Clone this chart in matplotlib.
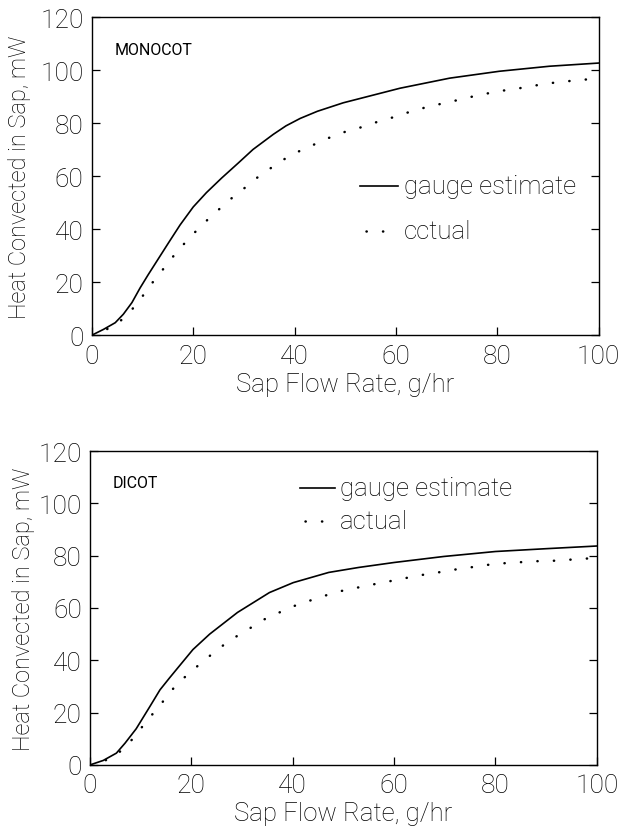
import matplotlib
matplotlib.use("Agg")
import matplotlib.pyplot as plt

# monocot panel
mono_gauge_x = [0, 2.3, 4.6, 6.2, 7.9, 9.5, 11.1, 13.1, 15.1, 17.4, 20, 22.6, 25.6, 28.9, 31.8, 35.8,
                38.3, 41.1, 44.5, 49.6, 60.8, 70.6, 80.4, 90.3, 100]
mono_gauge_y = [0, 2.2, 4.7, 7.9, 12.3, 17.8, 22.8, 28.8, 34.8, 41.6, 48.4, 53.8, 59.3, 65, 70.1, 75.8,
                79.0, 81.8, 84.5, 87.7, 93.2, 97.0, 99.6, 101.5, 102.7]
mono_actual_x = [0, 2.6, 5, 6.9, 8.7, 10.3, 11.9, 13.4, 15.1, 16.7, 18.4, 20.2, 22, 23.9, 25.9, 27.7,
                 29.8, 31.8, 33.8, 36.1, 38.2, 40.5, 42.9, 45.2, 47.5, 49.9, 52.4, 54.9, 57.3, 59.8,
                 62.1, 64.4, 66.9, 69.4, 71.9, 74.5, 77.0, 79.7, 82.2, 84.7, 87.1, 89.6, 92.1,
                 94.7, 97.2, 100]
mono_actual_y = [0, 1.9, 4.3, 7.6, 11.4, 15.5, 19.7, 23.4, 27.3, 31.4, 34.9, 38.6, 42, 45.6, 48.8, 51.9,
                 55, 58.3, 61.1, 64.1, 66.7, 69.1, 71.0, 73.3, 75.0, 76.7, 78.0, 79.6, 81.1, 82.4,
                 83.9, 85.2, 86.5, 87.5, 88.6, 89.8, 90.8, 91.9, 92.6, 93.3, 94.1, 94.9, 95.5,
                 96.0, 96.4, 97.3]

# dicot panel
dicot_gauge_x = [0, 2.6, 5.2, 6.9, 9.1, 11.8, 13.8, 15.7, 17.4, 20.3, 23.6, 29.1, 35.4, 40.1,
                 47.1, 53, 60, 69.8, 80, 90.2, 100]
dicot_gauge_y = [0, 1.7, 4.5, 8.3, 13.8, 22.3, 28.7, 33.3, 37.3, 44.1, 50.0, 58.3, 65.9, 69.7,
                 73.6, 75.5, 77.4, 79.7, 81.6, 82.7, 83.7]
dicot_actual_x = [0, 2.6, 5.1, 7.1, 8.9, 10.5, 12.1, 13.8, 15.4, 17.1, 19, 20.9, 22.9, 24.8, 26.9,
                  29.1, 31.3, 33.4, 35.8, 38.1, 40.7, 43.2, 45.7, 48.3, 51.1, 53.6, 56.1, 58.5,
                  61.2, 63.7, 66.3, 68.7, 71, 73.4, 76.1, 78.5, 81, 83.6, 85.9, 88.3, 91, 93.3,
                  95.7, 98, 100]
dicot_actual_y = [0, 1.3, 3.8, 7.0, 11.1, 15.1, 18.9, 22.7, 26.9, 30.7, 34.1, 37.3, 40.5, 43.6, 46.6,
                  49.4, 51.9, 54.7, 57, 58.9, 61.1, 62.7, 64.3, 65.9, 67.2, 68.1, 69.1, 70,
                  71, 72, 72.9, 73.6, 74.4, 75.1, 75.8, 76.5, 77, 77.4, 77.6, 77.9, 78, 78.3,
                  78.6, 78.9, 79.3]

xticks = [0, 20, 40, 60, 80, 100]
yticks = [0, 20, 40, 60, 80, 100, 120]

plt.rcParams['font.family'] = ['Roboto', 'DejaVu Sans']
plt.rcParams['font.weight'] = 'light'
plt.rcParams['axes.labelweight'] = 'light'
dots = (0, (0.1, 6.5))

fig = plt.figure(figsize=(6.21, 8.28), dpi=100)
ax1 = fig.add_axes([0.148, 0.594, 0.816, 0.384])
ax2 = fig.add_axes([0.145, 0.075, 0.816, 0.379])

panels = [
    (ax1, mono_gauge_x, mono_gauge_y, mono_actual_x, mono_actual_y, "MONOCOT",
     (53, 60.5, 56.2), 39.2, "cctual", -0.12),
    (ax2, dicot_gauge_x, dicot_gauge_y, dicot_actual_x, dicot_actual_y, "DICOT",
     (41.4, 48.3, 106), 93.2, "actual", -0.108),
]

for ax, gx, gy, axx, ayy, name, leg, ya, act_lbl, ylx in panels:
    ax.plot(gx, gy, color='black', lw=1.2)
    ax.plot(axx, ayy, color='black', lw=1.8, linestyle=dots, dash_capstyle='round')
    ax.set_xlim(0, 100)
    ax.set_ylim(0, 120)
    ax.set_xticks(xticks)
    ax.set_yticks(yticks)
    ax.tick_params(direction='in', length=6, width=0.9, labelsize=19, right=True, pad=6)
    for s in ax.spines.values():
        s.set_linewidth(1.0)
    ax.set_xlabel("Sap Flow Rate, g/hr", fontsize=18.5, labelpad=3)
    ax.set_ylabel("Heat Convected in Sap, mW", fontsize=17)
    ax.yaxis.set_label_coords(ylx, 0.5)
    ax.text(4.5, 108, name, fontsize=11.5, va='center', ha='left', fontweight='normal')
    x0, x1, yl = leg
    ax.plot([x0, x1], [yl, yl], color='black', lw=1.2)
    ax.text(x1 + 1, yl, "gauge estimate", fontsize=18.5, va='center', ha='left')
    ax.plot([x0 + 1, x1 - 1], [ya, ya], color='black', lw=1.8, linestyle=dots, dash_capstyle='round')
    ax.text(x1 + 1, ya, act_lbl, fontsize=18.5, va='center', ha='left')

fig.savefig("out.png", dpi=100)
